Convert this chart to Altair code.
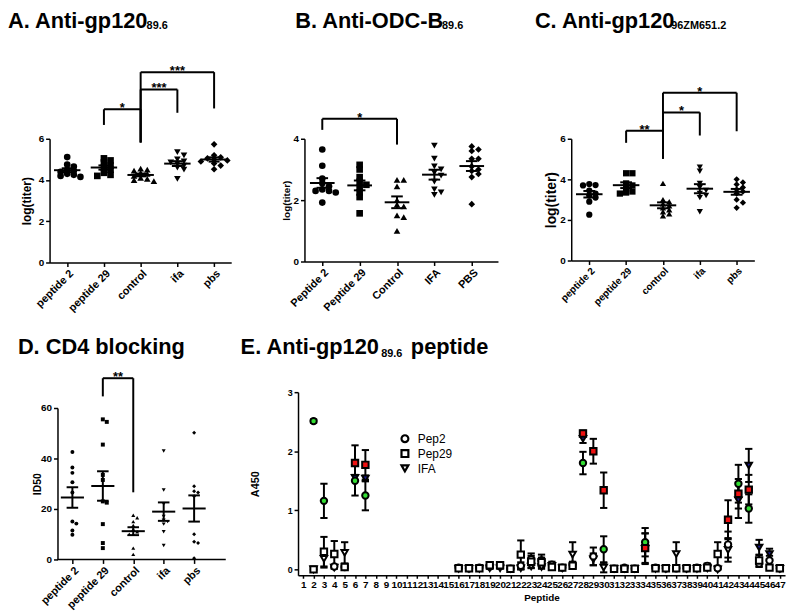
import json
import math
import altair as alt
import pandas as pd

FONT = "Liberation Sans"
NARROW = "Liberation Sans Narrow, Liberation Sans"
SHAPES = ["circle", "square", "triangle-up", "triangle-down", "diamond"]

# ---------------- Panel A: Anti-gp120 89.6 ----------------
a_labels = ["peptide 2", "peptide 29", "control", "ifa", "pbs"]
a_pep2 = [5.11, 4.75, 4.65, 4.5, 4.45, 4.4, 4.3, 4.25, 4.2, 4.15]
a_pep29 = [5.05, 4.95, 4.85, 4.7, 4.6, 4.5, 4.35, 4.25, 4.2]
a_control = [4.55, 4.5, 4.45, 4.35, 4.3, 4.2, 4.1, 4.05, 4.0, 3.95]
a_ifa = [5.35, 5.2, 5.0, 4.9, 4.85, 4.8, 4.7, 4.6, 4.5, 4.05]
a_pbs = [5.73, 5.2, 5.1, 5.05, 5.0, 4.95, 4.9, 4.8, 4.7, 4.52]
# (from group, to group, bar level, left leg end, right leg end, label)
a_brackets = [(2, 3, 7.43, 6.67, 5.82, "*"), (3, 4, 8.39, 5.82, 7.26, "***"),
              (3, 5, 9.23, 5.82, 7.47, "***")]

# ---------------- Panel B: Anti-ODC-B 89.6 ----------------
b_labels = ["Peptide 2", "Peptide 29", "Control", "IFA", "PBS"]
b_pep2 = [3.65, 3.12, 2.7, 2.55, 2.45, 2.35, 2.3, 2.3, 2.25, 1.92]
b_pep29 = [3.15, 3.0, 2.75, 2.6, 2.5, 2.4, 2.25, 2.1, 1.57]
b_control = [2.66, 2.66, 2.45, 2.0, 1.85, 1.8, 1.5, 1.45, 1.0]
b_ifa = [3.78, 3.35, 3.1, 3.0, 2.9, 2.8, 2.6, 2.35, 2.25, 2.17]
b_pbs = [3.75, 3.65, 3.6, 3.35, 3.35, 3.1, 3.0, 2.95, 2.85, 2.75, 1.87]
b_brackets = [(1, 3, 4.65, 4.29, 3.81, "*")]

# ---------------- Panel C: Anti-gp120 96ZM651.2 ----------------
c_labels = ["peptide 2", "peptide 29", "control", "ifa", "pbs"]
c_pep2 = [3.77, 3.72, 3.7, 3.45, 3.3, 3.2, 3.1, 2.9, 2.26]
c_pep29 = [4.3, 4.3, 3.8, 3.7, 3.55, 3.4, 3.35, 3.3]
c_control = [3.8, 3.0, 2.9, 2.8, 2.7, 2.6, 2.5, 2.4, 2.3, 2.2]
c_ifa = [4.6, 4.4, 3.8, 3.6, 3.45, 3.3, 3.2, 3.1, 2.4]
c_pbs = [4.0, 3.85, 3.75, 3.6, 3.5, 3.4, 3.3, 3.0, 2.85, 2.6]
c_brackets = [(2, 3, 6.4, 5.8, 5.02, "**"), (3, 4, 7.3, 5.02, 6.16, "*"),
              (3, 5, 8.27, 5.02, 6.37, "*")]

# ---------------- Panel D: CD4 blocking ----------------
d_labels = ["peptide 2", "peptide 29", "control", "ifa", "pbs"]
d_pep2 = [42.6, 36.4, 34.3, 30.6, 26.5, 15.0, 14.2, 11.5, 9.8]
d_pep29 = [55.5, 54.5, 45.5, 33.5, 31.5, 23.0, 22.5, 14.0, 6.5, 4.5]
d_control = [17.5, 16.5, 15.0, 13.5, 12.0, 11.0, 10.0, 10.0, 4.5, 2.0]
d_ifa = [43.0, 27.5, 22.0, 17.0, 15.5, 15.0, 14.0, 11.0, 5.5]
d_pbs = [50.2, 29.0, 27.0, 26.5, 25.0, 10.0, 7.0, 6.5, 0.5]
d_brackets = [(2, 3, 71.8, 64.6, 26.6, "**")]

# ---------------- Panel E: Anti-gp120 89.6 peptide ----------------
e_peptides = [2, 3, 4, 5, 6, 7, 16, 17, 18, 19, 20, 21, 22, 23, 24, 25, 26, 27,
              28, 29, 30, 31, 32, 33, 34, 35, 36, 37, 38, 39, 40, 41, 42, 43, 44, 45, 46, 47]
e_pep2_mean = [2.51, 1.16, 0.05, 0.04, 1.50, 1.25,
               0.03, 0.02, 0.03, 0.05, 0.06, 0.01, 0.06, 0.17, 0.15, 0.08, 0.03, 0.08,
               1.80, 0.22, 0.34, 0.01, 0.03, 0.01, 0.46, 0.03, 0.02, 0.02, 0.02, 0.03,
               0.06, 0.02, 0.42, 1.45, 1.03, 0.10, 0.15, 0.02]
e_pep2_sem = [0.03, 0.29, 0.03, 0.03, 0.25, 0.25,
              0.02, 0.01, 0.02, 0.03, 0.03, 0.01, 0.06, 0.10, 0.10, 0.05, 0.02, 0.05,
              0.19, 0.15, 0.22, 0.01, 0.02, 0.01, 0.24, 0.02, 0.01, 0.01, 0.01, 0.02,
              0.04, 0.01, 0.22, 0.32, 0.24, 0.06, 0.08, 0.01]
e_pep29_mean = [0.0, 0.30, 0.26, 0.04, 1.80, 1.77,
                0.02, 0.02, 0.02, 0.07, 0.07, 0.01, 0.25, 0.13, 0.12, 0.04, 0.03, 0.06,
                2.30, 2.00, 1.34, 0.01, 0.01, 0.01, 0.36, 0.02, 0.02, 0.02, 0.02, 0.02,
                0.03, 0.26, 0.84, 1.28, 1.35, 0.15, 0.03, 0.02]
e_pep29_sem = [0.01, 0.25, 0.22, 0.03, 0.30, 0.25,
               0.01, 0.01, 0.01, 0.04, 0.04, 0.01, 0.24, 0.10, 0.08, 0.03, 0.02, 0.04,
               0.05, 0.21, 0.30, 0.01, 0.01, 0.01, 0.25, 0.01, 0.01, 0.01, 0.01, 0.01,
               0.02, 0.20, 0.33, 0.25, 0.25, 0.10, 0.02, 0.01]
e_ifa_mean = [0.0, 0.18, 0.03, 0.28, 1.55, 1.54,
              0.01, 0.01, 0.01, 0.02, 0.02, 0.01, 0.02, 0.05, 0.04, 0.06, 0.02, 0.25,
              2.21, 0.17, 0.03, 0.01, 0.01, 0.01, 0.35, 0.01, 0.01, 0.26, 0.01, 0.01,
              0.02, 0.0, 0.33, 1.17, 1.76, 0.37, 0.26, 0.01]
e_ifa_sem = [0.01, 0.15, 0.02, 0.18, 0.05, 0.05,
             0.01, 0.01, 0.01, 0.01, 0.01, 0.01, 0.02, 0.03, 0.03, 0.04, 0.01, 0.21,
             0.07, 0.10, 0.08, 0.01, 0.01, 0.01, 0.26, 0.01, 0.01, 0.20, 0.01, 0.01,
             0.01, 0.01, 0.20, 0.30, 0.28, 0.13, 0.09, 0.01]
e_pep2_sig = [2, 3, 6, 7, 28, 30, 34, 43, 44]
e_pep29_sig = [6, 7, 28, 29, 30, 34, 42, 43, 44]
e_ifa_sig = [6, 7, 28, 43, 44, 45, 46]
e_series = ["Pep2", "Pep29", "IFA"]
e_shapes = ["circle", "square", "triangle-down"]
e_colors = ["#33dd33", "#ee1111", "#1a1a8c"]

ONE = pd.DataFrame({"a": [0]})


def swarm(vals, dx, dy):
    offs = [0.0] * len(vals)
    placed = []
    order = sorted(range(len(vals)), key=lambda i: -vals[i])
    cands = [0.0]
    for m in range(1, 8):
        cands += [m * dx, -m * dx]
    for i in order:
        for c in cands:
            if all(abs(vals[i] - vals[j]) >= dy or abs(c - offs[j]) >= dx * 0.95 for j in placed):
                offs[i] = c
                break
        placed.append(i)
    return offs


def text_layer(txt, x, y, size, weight="bold", baseline="alphabetic"):
    return alt.Chart(ONE).mark_text(
        text=txt, align="left", baseline=baseline, fontSize=size,
        fontWeight=weight, font=FONT, color="black"
    ).encode(x=alt.value(x), y=alt.value(y))


def dot_panel(groups, labels, xdom, ydom, yticks, width, height, msize, dx, dy,
              brackets, ytitle, ytitle_size, ytitle_x, xlab_size, titles,
              mean_half, cap_half, yoffset=0, xline=None):
    rows = []
    for gi, vals in enumerate(groups):
        offs = swarm(vals, dx, dy)
        for v, o in zip(vals, offs):
            rows.append({"x": gi + 1 + o, "y": v, "shape": SHAPES[gi]})
    pts = pd.DataFrame(rows)

    segs = []
    for gi, vals in enumerate(groups):
        s = pd.Series(vals)
        m = s.mean()
        se = s.std(ddof=1) / math.sqrt(len(s))
        c = gi + 1
        segs += [dict(x=c - mean_half, x2=c + mean_half, y=m, y2=m),
                 dict(x=c, x2=c, y=m - se, y2=m + se),
                 dict(x=c - cap_half, x2=c + cap_half, y=m - se, y2=m - se),
                 dict(x=c - cap_half, x2=c + cap_half, y=m + se, y2=m + se)]
    for (a, b, h, la, lb, lab) in brackets:
        segs += [dict(x=a, x2=b, y=h, y2=h), dict(x=a, x2=a, y=la, y2=h),
                 dict(x=b, x2=b, y=lb, y2=h)]
    segs = pd.DataFrame(segs)
    stars = pd.DataFrame([{"x": (a + b) / 2, "y": h, "t": lab}
                          for (a, b, h, la, lb, lab) in brackets])

    xs = alt.Scale(domain=xdom, nice=False, zero=False)
    ys = alt.Scale(domain=ydom, nice=False, zero=False)
    lab_expr = json.dumps([""] + labels) + "[datum.value]"
    xaxis = alt.Axis(values=[1, 2, 3, 4, 5], labelExpr=lab_expr, labelAngle=-45,
                     labelFontSize=xlab_size, labelFontWeight="bold", title=None,
                     grid=False, tickSize=4, labelPadding=1, labelOverlap=False,
                     labelFlush=False, domain=(xline is None))
    yaxis = alt.Axis(values=yticks, title=ytitle, titleFontSize=ytitle_size,
                     titleX=ytitle_x, grid=False, tickSize=4, labelFontSize=10,
                     labelFontWeight="bold", labelPadding=2, labelFlush=False,
                     offset=yoffset)

    points = alt.Chart(pts).mark_point(filled=True, opacity=1, size=msize, color="black").encode(
        x=alt.X("x:Q", scale=xs, axis=xaxis),
        y=alt.Y("y:Q", scale=ys, axis=yaxis),
        shape=alt.Shape("shape:N", scale=None),
    )
    rules = alt.Chart(segs).mark_rule(strokeWidth=2, color="black").encode(
        x=alt.X("x:Q", scale=xs), x2="x2:Q",
        y=alt.Y("y:Q", scale=ys), y2="y2:Q",
    )
    star_txt = alt.Chart(stars).mark_text(fontSize=13, fontWeight="bold", dy=3,
                                          baseline="alphabetic", font=FONT,
                                          color="black").encode(
        x=alt.X("x:Q", scale=xs), y=alt.Y("y:Q", scale=ys), text="t:N")
    layers = [points, rules, star_txt]
    if xline is not None:
        line_df = pd.DataFrame([{"x": xline[0], "x2": xline[1], "y": ydom[0], "y2": ydom[0]}])
        layers.append(alt.Chart(line_df).mark_rule(strokeWidth=1.5, color="black").encode(
            x=alt.X("x:Q", scale=xs), x2="x2:Q", y=alt.Y("y:Q", scale=ys), y2="y2:Q"))
    for (txt, x, y, size) in titles:
        layers.append(text_layer(txt, x, y, size))
    return alt.layer(*layers).properties(width=width, height=height)


TY = -112.3   # title baseline relative to the top of the first-row plots
SY = -110.7   # subscript baseline
A = dot_panel([a_pep2, a_pep29, a_control, a_ifa, a_pbs], a_labels, [0.52, 5.466], [0, 6],
              [0, 2, 4, 6], 183.5, 125, 45, 0.18, 0.2, a_brackets, "log(titer)", 12, -16, 11,
              [("A. Anti-gp120", -42, TY, 22), ("89.6", 98, SY, 11)], 0.36, 0.15)
B = dot_panel([b_pep2, b_pep29, b_control, b_ifa, b_pbs], b_labels, [0.523, 5.702], [0, 4],
              [0, 1, 2, 3, 4], 195.5, 124, 45, 0.18, 0.13, b_brackets, "log(titer)", 10, -13, 11,
              [("B. Anti-ODC-B", -9.3, TY, 22), ("89.6", 139, SY, 11)], 0.33, 0.155)
C = dot_panel([c_pep2, c_pep29, c_control, c_ifa, c_pbs], c_labels, [0.51, 5.48], [0, 6],
              [0, 2, 4, 6], 185, 123, 40, 0.17, 0.18, c_brackets, "log(titer)", 14, -13, 10,
              [("C. Anti-gp120", -36.7, TY, 22), ("96ZM651.2", 101, SY, 11)], 0.36, 0.16)
# D's plot frame starts 8px left of its y-axis (axis moved in by a negative offset)
D = dot_panel([d_pep2, d_pep29, d_control, d_ifa, d_pbs], d_labels, [0.25, 6.04], [0, 60],
              [0, 20, 40, 60], 178, 153, 16, 0.13, 1.3, d_brackets, "ID50", 10.5, -15, 11,
              [("D. CD4 blocking", -32, -54.7, 22)], 0.38, 0.19, yoffset=-8,
              xline=(0.51, 6.04))

# ----- Panel E -----
e_rows = []
e_segs = []
series_data = [
    ("Pep2", e_pep2_mean, e_pep2_sem, e_pep2_sig, 1),
    ("Pep29", e_pep29_mean, e_pep29_sem, e_pep29_sig, 2),
    ("IFA", e_ifa_mean, e_ifa_sem, e_ifa_sig, 0),
]
for name, means, sems, sig, order in series_data:
    idx = e_series.index(name)
    col = e_colors[idx]
    for p, m, s in zip(e_peptides, means, sems):
        e_rows.append({"x": p, "y": m, "shape": e_shapes[idx],
                       "fill": col if p in sig else "white", "ord": order})
        e_segs += [dict(x=p, x2=p, y=m - s, y2=m + s),
                   dict(x=p - 0.35, x2=p + 0.35, y=m - s, y2=m - s),
                   dict(x=p - 0.35, x2=p + 0.35, y=m + s, y2=m + s)]
e_pts = pd.DataFrame(e_rows).sort_values("ord", kind="stable")
e_segs = pd.DataFrame(e_segs)

exs = alt.Scale(domain=[0.5, 47.5], nice=False, zero=False)
eys = alt.Scale(domain=[-0.1, 3], nice=False, zero=False)


def e_axes():
    xa = alt.Axis(values=list(range(1, 48)), labelAngle=0, labelFontSize=10,
                  labelFont=NARROW, labelFontWeight="bold", labelOverlap=False,
                  labelFlush=False, grid=False, tickSize=3, labelPadding=1,
                  title="Peptide", titleFontSize=10, titlePadding=3, labelBound=False)
    ya = alt.Axis(values=[0, 1, 2, 3], format="d", grid=False, tickSize=4, labelFontSize=9,
                  labelFontWeight="bold", title="A450", titleFontSize=11, titleX=-38,
                  labelFlush=False, labelOverlap=False)
    return xa, ya


xa1, ya1 = e_axes()
xa2, ya2 = e_axes()
e_err = alt.Chart(e_segs).mark_rule(strokeWidth=2, color="black").encode(
    x=alt.X("x:Q", scale=exs, axis=xa1), x2="x2:Q",
    y=alt.Y("y:Q", scale=eys, axis=ya1), y2="y2:Q")
e_points = alt.Chart(e_pts).mark_point(filled=True, opacity=1, size=42, stroke="black",
                                       strokeWidth=2).encode(
    x=alt.X("x:Q", scale=exs, axis=xa2), y=alt.Y("y:Q", scale=eys, axis=ya2),
    fill=alt.Fill("fill:N", scale=None),
    shape=alt.Shape("shape:N", scale=None),
)

# legend drawn inside panel E
legend_layers = []
for i, (name, shp) in enumerate(zip(e_series, e_shapes)):
    ly = 47 + i * 15
    legend_layers.append(
        alt.Chart(ONE).mark_point(shape=shp, size=48, filled=True, fill="white",
                                  stroke="black", strokeWidth=2.2, opacity=1).encode(
            x=alt.value(108), y=alt.value(ly)))
    legend_layers.append(text_layer(name, 121, ly + 0.5, 12, weight="normal",
                                    baseline="middle"))

E = alt.layer(
    e_err, e_points, *legend_layers,
    text_layer("E. Anti-gp120", -58, -38.7, 22),
    text_layer("89.6", 84, -36, 11),
    text_layer("peptide", 114, -38.7, 22),
).properties(width=492, height=185)

row1 = alt.hconcat(A, B, C, spacing=73.5, bounds="flush")
row2 = alt.hconcat(D, E, spacing=73, bounds="flush", center=True)
chart = alt.vconcat(row1, row2, spacing=22).properties(
    padding={"left": 0, "top": -2, "right": 0, "bottom": 0}, background="white"
).configure_view(stroke=None).configure_axis(
    domainColor="black", tickColor="black", labelColor="black", titleColor="black",
    domainWidth=1.5, tickWidth=1.5, labelFont=FONT, titleFont=FONT,
    titleFontWeight="bold", labelFontWeight="bold", labelOverlap=False
)

chart.save("out.html", embed_options={"renderer": "svg", "actions": False})
